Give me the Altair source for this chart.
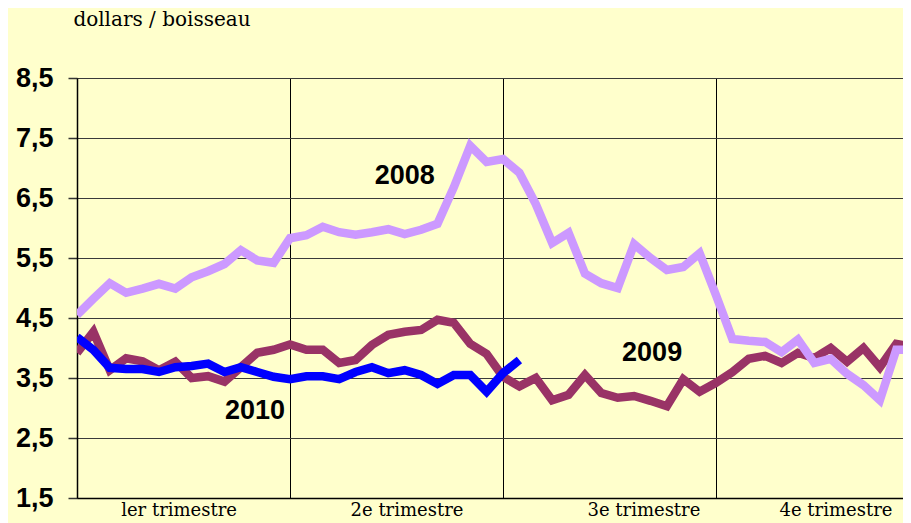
import altair as alt
import pandas as pd

# weekly index (13 weeks per quarter)
weeks_2008 = list(range(52))
weeks_2009 = list(range(52))
weeks_2010 = list(range(28))

v2008 = [4.55, 4.82, 5.08, 4.92, 4.99, 5.07, 4.99, 5.18, 5.28, 5.40, 5.63, 5.46, 5.42,
         5.83, 5.88, 6.02, 5.93, 5.89, 5.93, 5.98, 5.90, 5.97, 6.07, 6.68, 7.37, 7.10,
         7.15, 6.92, 6.40, 5.75, 5.92, 5.24, 5.08, 5.00, 5.73, 5.50, 5.30, 5.35, 5.58,
         4.88, 4.15, 4.12, 4.10, 3.93, 4.14, 3.75, 3.82, 3.57, 3.38, 3.13, 3.97, 3.97]
v2009 = [3.92, 4.27, 3.63, 3.83, 3.78, 3.63, 3.77, 3.50, 3.53, 3.44, 3.68, 3.92, 3.97,
         4.06, 3.97, 3.97, 3.75, 3.80, 4.05, 4.22, 4.27, 4.30, 4.47, 4.42, 4.07, 3.90,
         3.52, 3.36, 3.50, 3.13, 3.22, 3.55, 3.25, 3.17, 3.20, 3.12, 3.03, 3.48, 3.27,
         3.42, 3.60, 3.82, 3.87, 3.75, 3.92, 3.83, 4.00, 3.77, 4.00, 3.68, 4.07, 4.02]
v2010 = [4.18, 3.97, 3.67, 3.65, 3.65, 3.60, 3.68, 3.70, 3.74, 3.60, 3.68, 3.60, 3.52,
         3.48, 3.53, 3.53, 3.48, 3.60, 3.68, 3.58, 3.63, 3.55, 3.40, 3.55, 3.55, 3.27,
         3.58, 3.80]

y_ticks = [1.5, 2.5, 3.5, 4.5, 5.5, 6.5, 7.5, 8.5]
quarter_bounds = [0, 13, 26, 39]

quarter_labels = ["ler trimestre", "2e trimestre", "3e trimestre", "4e trimestre"]
quarter_label_x = [6.23, 20.14, 34.6, 46.32]

year_labels = ["2008", "2009", "2010"]
year_label_x = [20.0, 35.1, 10.86]
year_label_y = [6.87, 3.92, 2.95]

x_max = 826 / 16.385

xs = alt.Scale(domain=[0, x_max], nice=False, zero=False)
ys = alt.Scale(domain=[1.5, 8.5], nice=False, zero=False)

df08 = pd.DataFrame({"w": weeks_2008, "v": v2008})
df09 = pd.DataFrame({"w": weeks_2009, "v": v2009})
df10 = pd.DataFrame({"w": weeks_2010, "v": v2010})

x_axis = alt.Axis(values=quarter_bounds, grid=True, gridColor="#000000", gridWidth=1,
                  labels=False, ticks=False, domain=True, domainColor="#000000",
                  domainWidth=1.5, title=None)
y_axis = alt.Axis(values=y_ticks, grid=True, gridColor="#3a3a3a", gridWidth=1,
                  labelExpr="replace(format(datum.value, '.1f'), '.', ',')",
                  labelFont="Liberation Sans", labelFontWeight="bold", labelFontSize=27,
                  labelColor="#000000", labelPadding=15, tickSize=9, tickColor="#333333",
                  tickWidth=1.5, domain=True, domainColor="#000000", domainWidth=1.5,
                  title=None)

X = lambda f: alt.X(f, scale=xs, axis=x_axis)
Y = lambda f: alt.Y(f, scale=ys, axis=y_axis)

def line(df, color):
    return alt.Chart(df).mark_line(color=color, strokeWidth=8.5, strokeJoin="miter",
                                   strokeCap="butt", clip=True).encode(
        x=X("w:Q"), y=Y("v:Q"))

l09 = line(df09, "#993366")
l08 = line(df08, "#CC99FF")
l10 = line(df10, "#0000FF")

ydf = pd.DataFrame({"t": year_labels, "x": year_label_x, "y": year_label_y})
ytext = alt.Chart(ydf).mark_text(font="Liberation Sans Narrow, Arial Narrow, Liberation Sans",
                                 fontWeight="bold", fontSize=27, color="#000000",
                                 baseline="middle", align="center").encode(
    x=X("x:Q"), y=Y("y:Q"), text="t:N")

qdf = pd.DataFrame({"t": quarter_labels, "x": quarter_label_x})
qtext = alt.Chart(qdf).mark_text(font="DejaVu Serif", fontSize=18,
                                 color="#000000", baseline="alphabetic",
                                 align="center").encode(
    x=X("x:Q"), y=alt.value(438), text="t:N")

tdf = pd.DataFrame({"t": ["dollars / boisseau"]})
ttext = alt.Chart(tdf).mark_text(font="DejaVu Serif", fontSize=20,
                                 color="#000000", baseline="alphabetic",
                                 align="center").encode(
    x=alt.value(85), y=alt.value(-52), text="t:N")

chart = alt.layer(l09, l08, l10, ytext, qtext, ttext).properties(
    width=826, height=420,
    autosize=alt.AutoSizeParams(type="none"),
    padding={"left": 69, "top": 70, "right": 0, "bottom": 25},
    background="#FFFFCC",
).configure_view(stroke=None)

chart.save("out.html", embed_options={"renderer": "svg", "actions": False})
